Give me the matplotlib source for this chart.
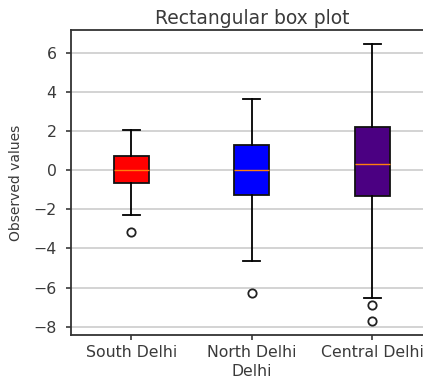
import matplotlib
matplotlib.use("Agg")
import matplotlib.pyplot as plt

# box plot summary values
regions = ["South Delhi", "North Delhi", "Central Delhi"]
whisker_low = [-2.28, -4.63, -6.55]
q1 = [-0.63, -1.26, -1.31]
median = [0.0, 0.0, 0.29]
q3 = [0.73, 1.29, 2.21]
whisker_high = [2.06, 3.64, 6.45]
outliers = [[-3.15], [-6.28], [-6.91, -7.71]]
colors = ["red", "blue", "indigo"]

stats = []
for i, name in enumerate(regions):
    stats.append(dict(label=name, whislo=whisker_low[i], q1=q1[i], med=median[i],
                      q3=q3[i], whishi=whisker_high[i], fliers=outliers[i]))

txt = "#3a3a3a"
plt.rcParams["text.color"] = txt
plt.rcParams["axes.labelcolor"] = txt
plt.rcParams["xtick.color"] = txt
plt.rcParams["ytick.color"] = txt

fig = plt.figure(figsize=(4.23, 3.81), dpi=100)
# axes runs past the right edge like in the cropped original
ax = fig.add_axes([71 / 423, 46 / 381, 361.5 / 423, 305 / 381])

lw = 1.3
bp = ax.bxp(stats, patch_artist=True, widths=0.29,
            boxprops=dict(linewidth=lw),
            whiskerprops=dict(linewidth=lw),
            capprops=dict(linewidth=lw),
            medianprops=dict(color="C1", linewidth=1),
            flierprops=dict(marker="o", markerfacecolor="white", markeredgecolor="#222222",
                            markeredgewidth=1.3, markersize=6))
for patch, c in zip(bp["boxes"], colors):
    patch.set_facecolor(c)
    patch.set_edgecolor("#111111")

for s in ax.spines.values():
    s.set_linewidth(1.3)
    s.set_color("#333333")

ax.yaxis.grid(True, color="#cccccc", linewidth=1.2)
ax.set_axisbelow(True)
ax.set_title("Rectangular box plot", fontsize=13.5, pad=4)
ax.set_xlabel("Delhi", fontsize=11.3, labelpad=3)
ax.set_ylabel("Observed values", fontsize=10, labelpad=7)
ax.tick_params(labelsize=11.3, width=1.2)
ax.tick_params(axis="y", pad=7)
ax.set_yticks([-8, -6, -4, -2, 0, 2, 4, 6])

fig.savefig("out.png", dpi=100)
